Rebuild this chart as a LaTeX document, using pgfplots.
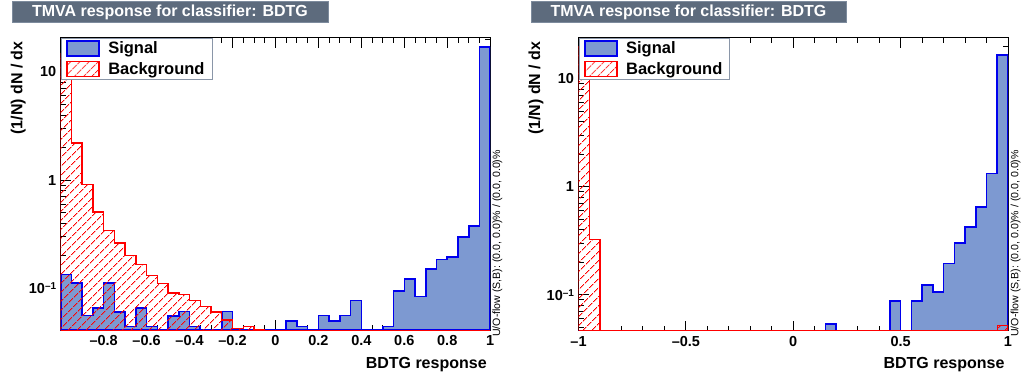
\documentclass[border=0pt]{standalone}
\usepackage{fontspec}
\setmainfont{Liberation Sans}
\usepackage{pgfplots}
\pgfplotsset{compat=1.18}
\usetikzlibrary{patterns.meta}
\definecolor{titlebox}{HTML}{5D6B7D}
\definecolor{titleborder}{HTML}{7D8B9D}
\definecolor{sigfill}{HTML}{7D99D1}
\definecolor{sigline}{HTML}{0000EE}
\definecolor{bkgline}{HTML}{FF0000}
\definecolor{legborder}{HTML}{8A96A8}

\pgfplotstableread{
x y
-1.00 0.134
-0.95 0.111
-0.90 0.0558
-0.85 0.0658
-0.80 0.111
-0.75 0.060
-0.70 0.0442
-0.65 0.0658
-0.60 0.0442
-0.55 0.0408
-0.50 0.0555
-0.45 0.0608
-0.40 0.0442
-0.35 0.0408
-0.30 0.0408
-0.25 0.0608
-0.20 0.0408
-0.15 0.0408
-0.10 0.0408
-0.05 0.0408
0.00 0.0408
0.05 0.0499
0.10 0.0442
0.15 0.0408
0.20 0.0558
0.25 0.0499
0.30 0.0558
0.35 0.0769
0.40 0.0408
0.45 0.0408
0.50 0.0442
0.55 0.0946
0.60 0.122
0.65 0.0838
0.70 0.151
0.75 0.184
0.80 0.194
0.85 0.296
0.90 0.375
0.95 17.0
1.00 17.0
}\sigL

\pgfplotstableread{
x y
-1.00 14.6
-0.95 2.20
-0.90 0.905
-0.85 0.506
-0.80 0.342
-0.75 0.261
-0.70 0.201
-0.65 0.166
-0.60 0.131
-0.55 0.110
-0.50 0.090
-0.45 0.0875
-0.40 0.0769
-0.35 0.0678
-0.30 0.0600
-0.25 0.051
-0.20 0.0425
-0.15 0.0442
-0.10 0.0414
-0.05 0.0408
0.00 0.0408
0.05 0.0408
0.10 0.0408
0.15 0.0408
0.20 0.0408
0.25 0.0408
0.30 0.0408
0.35 0.0408
0.40 0.0408
0.45 0.0408
0.50 0.0408
0.55 0.0408
0.60 0.0408
0.65 0.0408
0.70 0.0408
0.75 0.0408
0.80 0.0408
0.85 0.0408
0.90 0.0408
0.95 0.0408
1.00 0.0408
}\bkgL

\pgfplotstableread{
x y
-1.00 0.0468
-0.95 0.0468
-0.90 0.0468
-0.85 0.0468
-0.80 0.0468
-0.75 0.0468
-0.70 0.0468
-0.65 0.0468
-0.60 0.0468
-0.55 0.0468
-0.50 0.0468
-0.45 0.0468
-0.40 0.0468
-0.35 0.0468
-0.30 0.0468
-0.25 0.0468
-0.20 0.0468
-0.15 0.0468
-0.10 0.0468
-0.05 0.0468
0.00 0.0468
0.05 0.0468
0.10 0.0468
0.15 0.0537
0.20 0.0468
0.25 0.0468
0.30 0.0468
0.35 0.0468
0.40 0.0468
0.45 0.0880
0.50 0.0468
0.55 0.0880
0.60 0.124
0.65 0.106
0.70 0.196
0.75 0.303
0.80 0.426
0.85 0.648
0.90 1.33
0.95 16.6
1.00 16.6
}\sigR

\pgfplotstableread{
x y
-1.00 19.9
-0.95 0.326
-0.90 0.0468
-0.85 0.0468
-0.80 0.0468
-0.75 0.0468
-0.70 0.0468
-0.65 0.0468
-0.60 0.0468
-0.55 0.0468
-0.50 0.0468
-0.45 0.0468
-0.40 0.0468
-0.35 0.0468
-0.30 0.0468
-0.25 0.0468
-0.20 0.0468
-0.15 0.0468
-0.10 0.0468
-0.05 0.0468
0.00 0.0468
0.05 0.0468
0.10 0.0468
0.15 0.0468
0.20 0.0468
0.25 0.0468
0.30 0.0468
0.35 0.0468
0.40 0.0468
0.45 0.0468
0.50 0.0468
0.55 0.0468
0.60 0.0468
0.65 0.0468
0.70 0.0468
0.75 0.0468
0.80 0.0468
0.85 0.0468
0.90 0.0468
0.95 0.0520
1.00 0.0520
}\bkgR

\tikzset{
  sigsty/.style={draw=sigline, line width=1.6pt, fill=sigfill},
  bkgsty/.style={draw=bkgline, line width=1.4pt,
      pattern={Lines[angle=45,distance=6.5pt,line width=0.9pt]}, pattern color=bkgline},
}

\pgfplotsset{
  tmva/.style={
    scale only axis, width=429.5pt, height=292.5pt,
    xmin=-1, xmax=1,
    axis line style={line width=1pt},
    every tick/.style={black, line width=0.9pt},
    major tick length=10pt, minor tick length=5pt,
    tick align=inside,
    /pgf/number format/assume math mode=true,
    ytick={0.1,1,10},
    yticklabels={10\raisebox{0.55ex}{\fontsize{10}{10}\selectfont --1},1,10},
    minor ytick={0.05,0.06,0.07,0.08,0.09,0.2,0.3,0.4,0.5,0.6,0.7,0.8,0.9,2,3,4,5,6,7,8,9,20},
    tick label style={font=\bfseries\fontsize{14.5}{16}\selectfont},
    xticklabel style={yshift=-2pt},
    yticklabel style={xshift=-1pt},
    every axis y label/.style={at={(axis description cs:-0.099,1)}, anchor=east, rotate=90,
      font=\bfseries\fontsize{16}{18}\selectfont},
    every axis x label/.style={at={(axis description cs:1,-0.118)}, anchor=east,
      font=\bfseries\fontsize{16}{18}\selectfont},
    xlabel={BDTG response},
    ylabel={(1/N) dN / dx},
    legend cell align=left,
    legend image code/.code={\draw[##1] (0pt,-7.5pt) rectangle (32pt,7.5pt);},
    legend style={at={(0,1)}, anchor=north west, draw=legborder, line width=1pt, fill=white,
      inner xsep=5pt, inner ysep=1pt, row sep=2pt, column sep=6pt,
      font=\bfseries\fontsize{16.5}{18}\selectfont,
      nodes={inner sep=2.5pt}},
  }
}

\begin{document}
\begin{tikzpicture}[x=1pt,y=1pt]
\useasboundingbox (0,0) rectangle (1021,379);

% left panel
\node[fill=titlebox, draw=titleborder, line width=1pt, minimum width=316pt, minimum height=21pt,
  inner sep=0pt, text=white, font=\bfseries\fontsize{16}{16}\selectfont] at (170,366.5)
  {TMVA response for classifier: BDTG};
\begin{axis}[tmva, ymode=log, log origin=infty, at={(60.7pt,48.7pt)}, anchor=south west,
  ymin=0.0408, ymax=20.7,
  xtick={-0.8,-0.6,-0.4,-0.2,0,0.2,0.4,0.6,0.8,1},
  xticklabels={--0.8,--0.6,--0.4,--0.2,0,0.2,0.4,0.6,0.8,1},
  minor xtick={-1,-0.95,...,1.01}]
\addplot[const plot, sigsty] table {\sigL} \closedcycle;
\addlegendentry{Signal}
\addplot[const plot, bkgsty] table {\bkgL} \closedcycle;
\addlegendentry{Background}
\end{axis}
\node[rotate=90, anchor=west, inner sep=0pt, font=\fontsize{10.6}{12}\selectfont] at (497.5,42)
  {U/O-flow (S,B): (0.0, 0.0)\% / (0.0, 0.0)\%};

% right panel
\node[fill=titlebox, draw=titleborder, line width=1pt, minimum width=315pt, minimum height=21pt,
  inner sep=0pt, text=white, font=\bfseries\fontsize{16}{16}\selectfont] at (688.5,366.5)
  {TMVA response for classifier: BDTG};
\begin{axis}[tmva, ymode=log, log origin=infty, at={(578.5pt,48.5pt)}, anchor=south west,
  ymin=0.0468, ymax=23.9,
  xtick={-1,-0.5,0,0.5,1},
  xticklabels={--1,--0.5,0,0.5,1},
  minor xtick={-1,-0.9,...,1.01}]
\addplot[const plot, sigsty] table {\sigR} \closedcycle;
\addlegendentry{Signal}
\addplot[const plot, bkgsty] table {\bkgR} \closedcycle;
\addlegendentry{Background}
\end{axis}
\node[rotate=90, anchor=west, inner sep=0pt, font=\fontsize{10.6}{12}\selectfont] at (1015.5,42)
  {U/O-flow (S,B): (0.0, 0.0)\% / (0.0, 0.0)\%};
\end{tikzpicture}
\end{document}
